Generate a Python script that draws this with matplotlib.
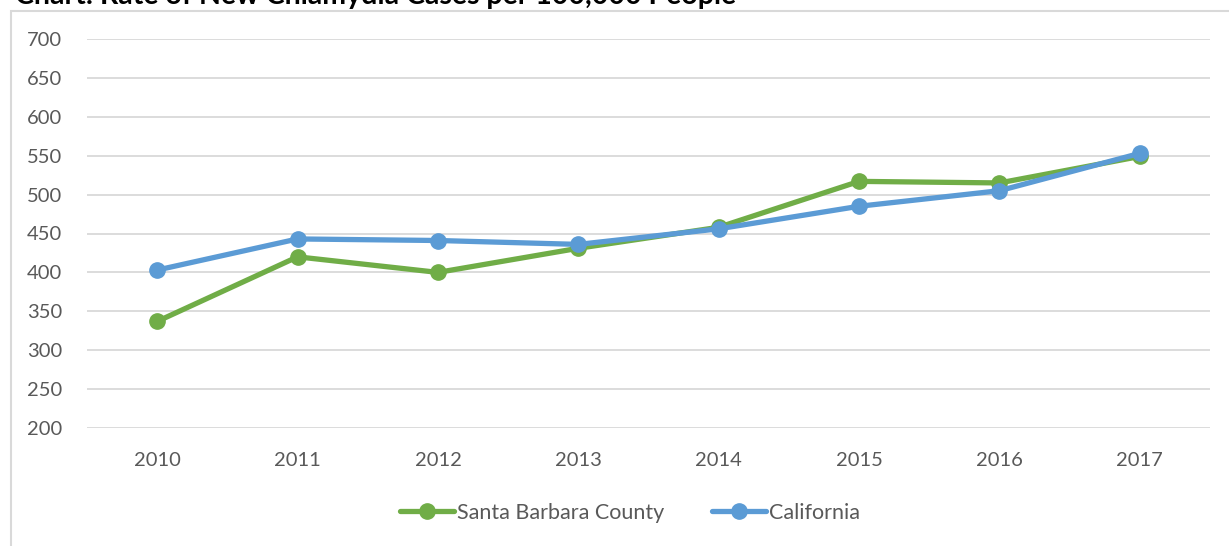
import matplotlib
matplotlib.use("Agg")
import matplotlib.pyplot as plt
from matplotlib.patches import Rectangle

years = ["2010", "2011", "2012", "2013", "2014", "2015", "2016", "2017"]
santa_barbara = [337, 420, 400, 431, 458, 517, 515, 549]
california = [403, 443, 441, 436, 456, 485, 505, 553]
series_names = ["Santa Barbara County", "California"]
title = "Chart: Rate of New Chlamydia Cases per 100,000 People"

GREEN = "#70AD47"
BLUE = "#5B9BD5"
GRID = "#D9D9D9"
TXT = "#595959"

plt.rcParams['font.family'] = ['Lato', 'DejaVu Sans']

W, H = 1229, 546
fig = plt.figure(figsize=(W / 100, H / 100), dpi=100)

# chart border
fig.patches.append(Rectangle((10.5 / W, -0.1), 1.2, 1 - 10.5 / H + 0.1,
                             transform=fig.transFigure, fill=False,
                             edgecolor="#D9D9D9", linewidth=1.5))

# title (clipped at the top edge as in the reference)
fig.text(15 / W, 1 - 4 / H, title, fontsize=20.5, fontweight="bold",
         color="#000000", ha="left", va="baseline")

ax = fig.add_axes([87 / W, 1 - 428 / H, (1210 - 87) / W, (428 - 39) / H])
x = list(range(len(years)))
ax.plot(x, santa_barbara, color=GREEN, lw=3.8, marker="o", ms=11,
        label=series_names[0], solid_capstyle="round", zorder=3)
ax.plot(x, california, color=BLUE, lw=3.8, marker="o", ms=11,
        label=series_names[1], solid_capstyle="round", zorder=4)

ax.set_xlim(-0.5, len(years) - 0.5)
ax.set_ylim(200, 700)
ax.set_yticks(range(200, 701, 50))
ax.set_xticks(x)
ax.set_xticklabels(years)
ax.grid(axis="y", color=GRID, lw=1.3)
ax.set_axisbelow(True)
for s in ax.spines.values():
    s.set_visible(False)
ax.tick_params(axis="both", length=0, labelsize=14.5, colors=TXT)
ax.tick_params(axis="y", pad=18)
ax.tick_params(axis="x", pad=17)

leg = fig.legend(loc="center", bbox_to_anchor=(630 / W, 1 - 513 / H), ncol=2,
                 frameon=False, fontsize=15.5, handlelength=2.5,
                 handletextpad=0.15, columnspacing=2.2, labelcolor=TXT)

fig.savefig("out.png", dpi=100)
